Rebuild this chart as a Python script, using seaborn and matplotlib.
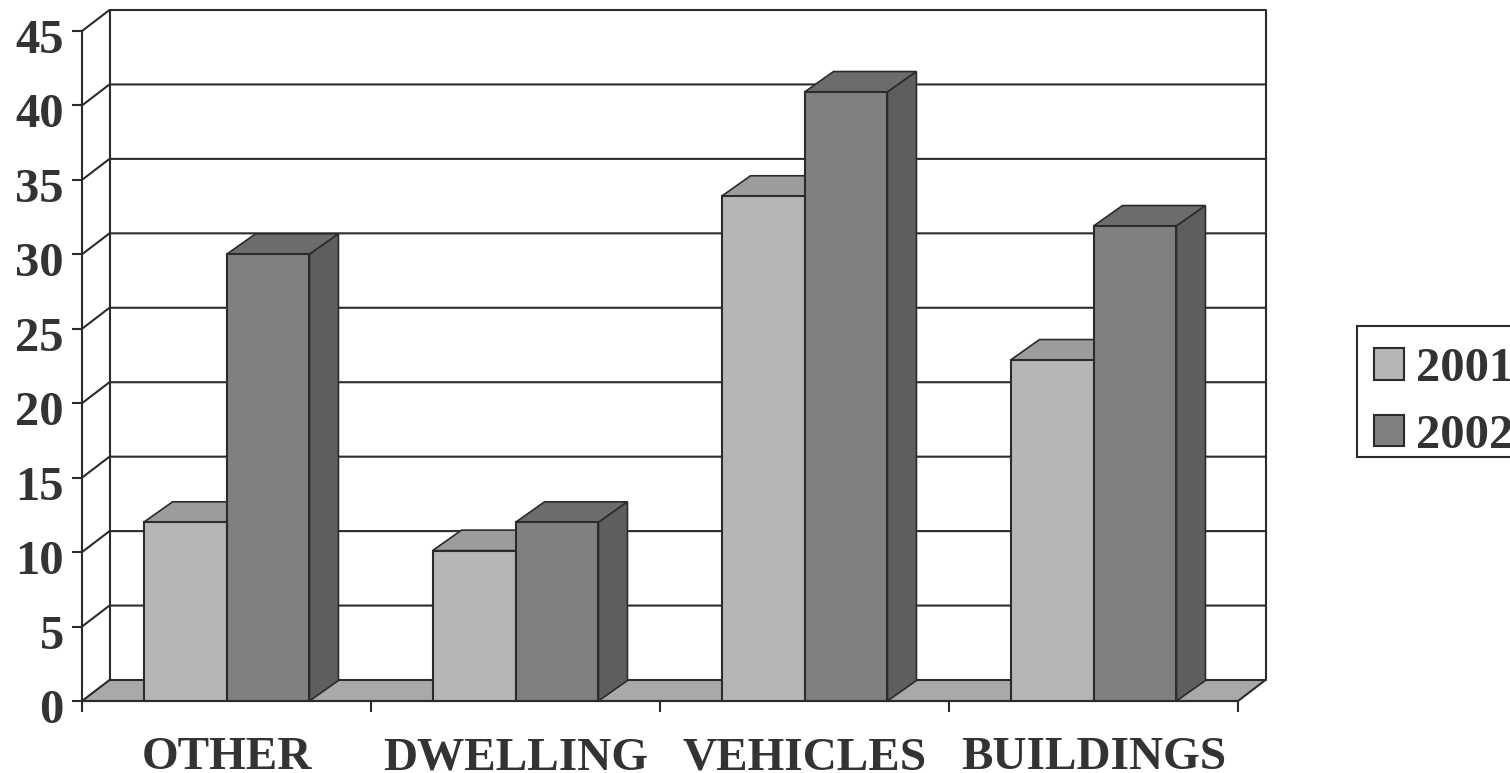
import matplotlib
matplotlib.use("Agg")
import matplotlib.pyplot as plt
import pandas as pd
import seaborn as sns
from matplotlib.patches import Patch, Polygon, Rectangle
from matplotlib.transforms import ScaledTranslation

# Chart values
categories = ["OTHER", "DWELLING", "VEHICLES", "BUILDINGS"]
series_names = ["2001", "2002"]
values_2001 = [12.0, 10.1, 33.9, 22.9]
values_2002 = [30.0, 12.0, 40.9, 31.9]
y_ticks = [0, 5, 10, 15, 20, 25, 30, 35, 40, 45]

# Shading of the extruded bars
front_colors = {"2001": "#b6b6b6", "2002": "#808080"}
top_colors = {"2001": "#9c9c9c", "2002": "#6c6c6c"}
side_colors = {"2001": "#8a8a8a", "2002": "#5e5e5e"}
floor_color = "#a9a9a9"
ink = "#2b2b2b"
lw = 1.5

W, H = 1510, 773
sns.set_theme(style="white")
plt.rcParams["font.family"] = ["Liberation Serif", "DejaVu Serif"]

fig = plt.figure(figsize=(W / 100, H / 100), dpi=100, facecolor="white")
left, right, top, bottom = 82, 1238, 31, 701
ax = fig.add_axes([left / W, 1 - bottom / H, (right - left) / W, (bottom - top) / H])

df = pd.DataFrame({
    "category": categories * 2,
    "year": [series_names[0]] * 4 + [series_names[1]] * 4,
    "value": values_2001 + values_2002,
})
sns.barplot(data=df, x="category", y="value", hue="year", order=categories,
            hue_order=series_names, palette=front_colors, width=0.574, gap=0,
            saturation=1, edgecolor=ink, linewidth=lw, legend=False, zorder=5, ax=ax)

ax.set_xlim(-0.5, 3.5)
ax.set_ylim(0, 45)
ax.set_xlabel("")
ax.set_ylabel("")

# Depth of the oblique projection, in data units
px_x = 4 / (right - left)
px_y = 45 / (bottom - top)
wall_dx, wall_dy = 27.5 * px_x, 21 * px_y
bar_dx, bar_dy = 29 * px_x, 20.5 * px_y
x0, x1 = -0.5, 3.5

# Floor and back wall
ax.add_patch(Polygon([(x0, 0), (x1, 0), (x1 + wall_dx, wall_dy), (x0 + wall_dx, wall_dy)],
                     closed=True, facecolor=floor_color, edgecolor=ink, linewidth=lw,
                     clip_on=False, zorder=1))
for v in y_ticks[1:]:
    ax.plot([x0, x0 + wall_dx, x1 + wall_dx], [v, v + wall_dy, v + wall_dy],
            color=ink, lw=lw, clip_on=False, zorder=1, solid_joinstyle="miter")
ax.plot([x0 + wall_dx] * 2, [wall_dy, 45 + wall_dy], color=ink, lw=lw, clip_on=False, zorder=1)
ax.plot([x1 + wall_dx] * 2, [wall_dy, 45 + wall_dy], color=ink, lw=lw, clip_on=False, zorder=1)

# Top and side faces for every bar, built from the bar rectangles
n = len(categories)
for i, bar in enumerate(ax.patches[:2 * n]):
    year = series_names[i // n]
    xa, w, h = bar.get_x(), bar.get_width(), bar.get_height()
    z = 2 if year == "2001" else 3
    ax.add_patch(Polygon([(xa, h), (xa + w, h), (xa + w + bar_dx, h + bar_dy), (xa + bar_dx, h + bar_dy)],
                         closed=True, facecolor=top_colors[year], edgecolor=ink, linewidth=lw * 0.8,
                         clip_on=False, zorder=z))
    ax.add_patch(Polygon([(xa + w, 0), (xa + w + bar_dx, bar_dy), (xa + w + bar_dx, h + bar_dy), (xa + w, h)],
                         closed=True, facecolor=side_colors[year], edgecolor=ink, linewidth=lw * 0.8,
                         clip_on=False, zorder=z))
    bar.set_zorder(z + 0.5 if year == "2002" else 2.5)

# Axis lines and ticks
sns.despine(ax=ax, top=True, right=True)
for name in ("left", "bottom"):
    ax.spines[name].set_color(ink)
    ax.spines[name].set_linewidth(lw)
    ax.spines[name].set_zorder(6)

ax.set_yticks(y_ticks)
ax.set_yticklabels([str(v) for v in y_ticks], fontsize=35, fontweight="bold", color="#333333")
ax.tick_params(axis="y", which="major", left=True, length=7, width=lw, color=ink, pad=6)

# The value labels sit slightly below their tick marks
label_shift = ScaledTranslation(0, -5 / 100, fig.dpi_scale_trans)
for label in ax.get_yticklabels():
    label.set_transform(label.get_transform() + label_shift)

ax.set_xticks([x0 + k for k in range(n + 1)])
ax.set_xticklabels([""] * (n + 1))
ax.set_xticks(range(n), minor=True)
ax.set_xticklabels(categories, minor=True, fontsize=34, fontweight="bold", color="#333333")
ax.tick_params(axis="x", which="major", bottom=True, length=8, width=lw, color=ink)
ax.tick_params(axis="x", which="minor", bottom=False, length=0, pad=26)

# Legend box, running off the right edge of the figure
handles = [Patch(facecolor=front_colors[s], edgecolor=ink, linewidth=lw, label=s) for s in series_names]
fig.add_artist(Rectangle((1357 / W, 1 - 457 / H), 200 / W, 131 / H, transform=fig.transFigure,
                         facecolor="white", edgecolor=ink, linewidth=lw))
fig.legend(handles=handles, loc="upper left", bbox_to_anchor=(1355 / W, 1 - 328 / H),
           frameon=False, prop={"family": "Liberation Serif", "weight": "bold", "size": 35},
           labelcolor="#333333", handlelength=0.62, handleheight=0.62,
           handletextpad=0.24, borderpad=0.39, labelspacing=0.47, borderaxespad=0)

fig.savefig("out.png", dpi=100, facecolor="white")
